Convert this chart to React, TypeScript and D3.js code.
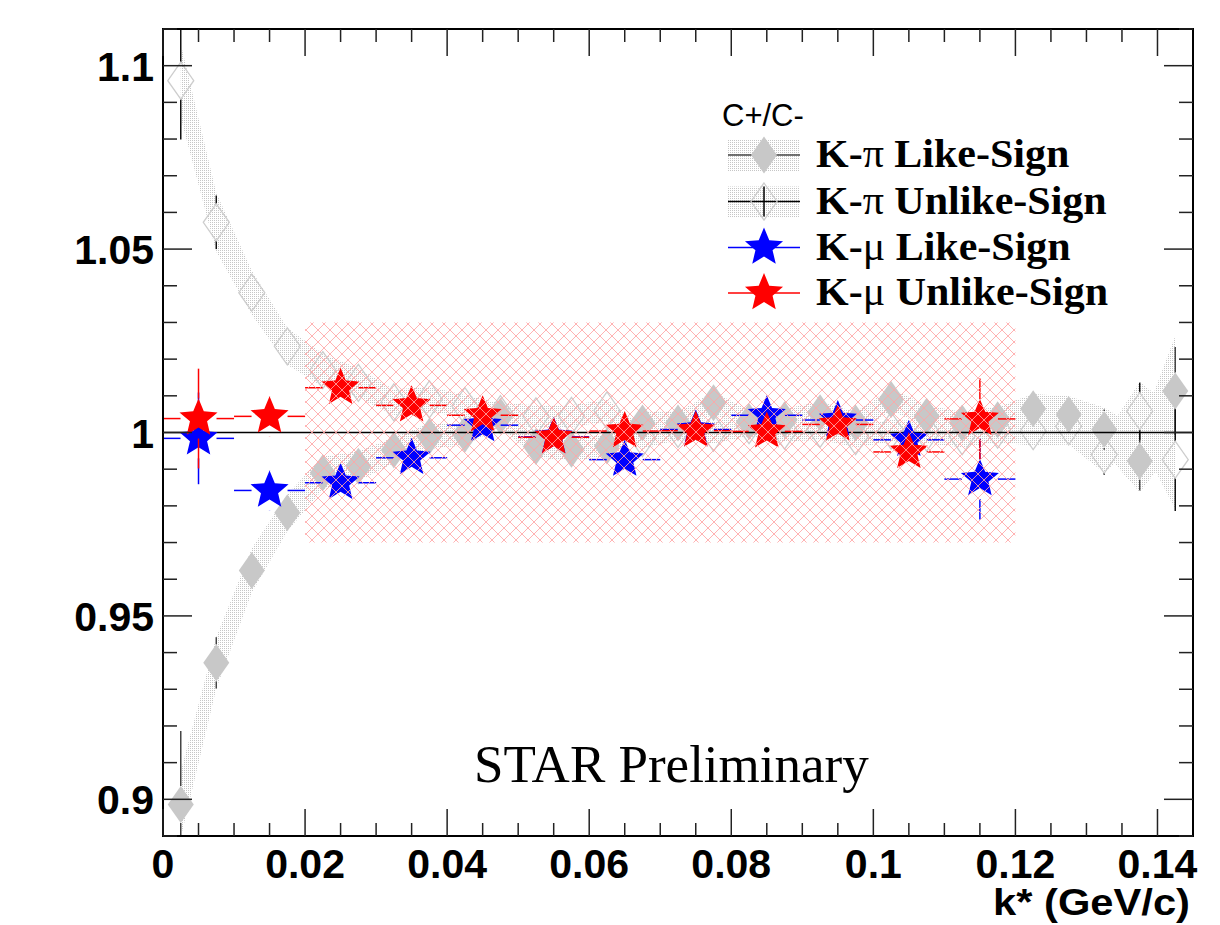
import React from 'react';
import * as d3 from 'd3';

// K-pi correlation ratio C+/C-, bins of 0.005 GeV/c
const kpiK = [
  0.0025, 0.0075, 0.0125, 0.0175, 0.0225, 0.0275, 0.0325, 0.0375, 0.0425, 0.0475,
  0.0525, 0.0575, 0.0625, 0.0675, 0.0725, 0.0775, 0.0825, 0.0875, 0.0925, 0.0975,
  0.1025, 0.1075, 0.1125, 0.1175, 0.1225, 0.1275, 0.1325, 0.1375, 0.1425,
];
const kpiLike = [
  0.8986, 0.9372, 0.9624, 0.9781, 0.989, 0.9908, 0.9952, 0.999, 0.9995, 1.0044,
  0.9962, 0.9954, 0.9963, 1.0026, 1.0026, 1.0081, 1.003, 1.0035, 1.0054, 1.0026,
  1.009, 1.0044, 1.0026, 1.0035, 1.0065, 1.0049, 1.0008, 0.9922, 1.0113,
];
const kpiLikeStat = [
  0.02, 0.007, 0.0045, 0.004, 0.0035, 0.003, 0.003, 0.003, 0.003, 0.003,
  0.003, 0.003, 0.003, 0.003, 0.003, 0.003, 0.003, 0.003, 0.003, 0.003,
  0.003, 0.003, 0.003, 0.003, 0.0035, 0.004, 0.0055, 0.008, 0.012,
];
const kpiLikeSys = [
  0.009, 0.007, 0.006, 0.005, 0.0045, 0.004, 0.0035, 0.0035, 0.003, 0.003,
  0.003, 0.003, 0.003, 0.003, 0.003, 0.003, 0.003, 0.003, 0.003, 0.003,
  0.003, 0.003, 0.003, 0.0035, 0.004, 0.005, 0.006, 0.0085, 0.015,
];
const kpiUnlike = [
  1.0959, 1.0573, 1.0381, 1.0235, 1.017, 1.0135, 1.0082, 1.009, 1.0072, 1.005,
  1.0044, 1.0045, 1.006, 0.9985, 1.001, 1.0, 1.002, 1.0005, 1.001, 0.999,
  1.0005, 1.0, 0.999, 1.0008, 1.0004, 1.0017, 0.994, 1.0058, 0.9926,
];
const kpiUnlikeStat = [
  0.016, 0.0073, 0.0045, 0.004, 0.0035, 0.003, 0.003, 0.003, 0.003, 0.003,
  0.003, 0.003, 0.003, 0.003, 0.003, 0.003, 0.003, 0.003, 0.003, 0.003,
  0.003, 0.003, 0.003, 0.003, 0.0035, 0.004, 0.0055, 0.0078, 0.014,
];
const kpiUnlikeSys = [
  0.01, 0.008, 0.006, 0.005, 0.0045, 0.004, 0.0035, 0.0035, 0.003, 0.003,
  0.003, 0.003, 0.003, 0.003, 0.003, 0.003, 0.003, 0.003, 0.003, 0.003,
  0.003, 0.003, 0.003, 0.0035, 0.004, 0.005, 0.005, 0.008, 0.0135,
];

// K-mu, bins of 0.01 GeV/c
const kmuK = [0.005, 0.015, 0.025, 0.035, 0.045, 0.055, 0.065, 0.075, 0.085, 0.095, 0.105, 0.115];
const kmuLike = [0.9984, 0.9842, 0.9863, 0.9931, 1.002, 0.9988, 0.9926, 1.0008, 1.0047, 1.0034, 0.998, 0.9873];
const kmuLikeErr = [0.0125, 0.0055, 0.004, 0.004, 0.004, 0.004, 0.004, 0.004, 0.004, 0.004, 0.004, 0.011];
const kmuUnlike = [1.0038, 1.0044, 1.0122, 1.0074, 1.0047, 0.9987, 1.0004, 1.0005, 1.0003, 1.0022, 0.9947, 1.0037];
const kmuUnlikeErr = [0.0136, 0.0055, 0.004, 0.004, 0.004, 0.004, 0.004, 0.004, 0.004, 0.004, 0.004, 0.011];
const kmuBinHalf = 0.005;

// systematic box for the K-mu points
const sysBox = { x0: 0.02, x1: 0.12, y0: 0.97, y1: 1.03 };

const xTickLabels = ['0', '0.02', '0.04', '0.06', '0.08', '0.1', '0.12', '0.14'];
const yTickLabels = ['0.9', '0.95', '1', '1.05', '1.1'];
const legendLabels: [string, string, string][] = [
  ['K-', 'π', ' Like-Sign'],
  ['K-', 'π', ' Unlike-Sign'],
  ['K-', 'μ', ' Like-Sign'],
  ['K-', 'μ', ' Unlike-Sign'],
];

const W = 1220;
const H = 925;
const left = 163;
const right = 1193;
const top = 29;
const bottom = 836;

const starR = 20;
const diaW = 13;
const diaH = 18.5;

function starPath(R: number, r: number) {
  const pts: string[] = [];
  for (let i = 0; i < 10; i++) {
    const a = -Math.PI / 2 + (i * Math.PI) / 5;
    const rad = i % 2 === 0 ? R : r;
    pts.push(`${(rad * Math.cos(a)).toFixed(2)},${(rad * Math.sin(a)).toFixed(2)}`);
  }
  return 'M' + pts.join('L') + 'Z';
}
const STAR = starPath(starR, starR * 0.45);
const DIAMOND = `M0,${-diaH}L${diaW},0L0,${diaH}L${-diaW},0Z`;

// vertical error bar drawn only outside the marker, like ROOT does
function ErrBar({ cx, cy, up, dn, gap, color }: { cx: number; cy: number; up: number; dn: number; gap: number; color: string }) {
  return (
    <g stroke={color} strokeWidth={1.5}>
      {cy - up > gap && <line x1={cx} x2={cx} y1={up} y2={cy - gap} />}
      {dn - cy > gap && <line x1={cx} x2={cx} y1={cy + gap} y2={dn} />}
    </g>
  );
}

export default function App() {
  const x = d3.scaleLinear([0, 0.145], [left, right]);
  const y = d3.scaleLinear([0.89, 1.11], [bottom, top]);

  const xMajor = xTickLabels.map(Number);
  const yMajor = yTickLabels.map(Number);
  const xMinor = d3.range(0, 29).map((i) => +(i * 0.005).toFixed(3)).filter((v) => !xMajor.some((m) => Math.abs(m - v) < 1e-6));
  const yMinor = d3.range(89, 112).map((i) => i / 100).filter((v) => !yMajor.some((m) => Math.abs(m - v) < 1e-6));

  const band = d3
    .area<[number, number, number]>()
    .x((d) => x(d[0]))
    .y0((d) => y(d[1] - d[2]))
    .y1((d) => y(d[1] + d[2]));

  const likeBand = band(kpiK.map((k, i) => [k, kpiLike[i], kpiLikeSys[i]])) || '';
  const unlikeBand = band(kpiK.map((k, i) => [k, kpiUnlike[i], kpiUnlikeSys[i]])) || '';

  const starSeries = [
    { vals: kmuLike, errs: kmuLikeErr, color: '#0000ff' },
    { vals: kmuUnlike, errs: kmuUnlikeErr, color: '#ff0000' },
  ];

  const legendY = [155, 201.5, 247.5, 293];
  const lgX0 = 728;
  const lgX1 = 800;
  const lgMid = 764;

  return (
    <svg width={W} height={H} style={{ position: 'absolute', left: 0, top: 0, background: '#fff' }}>
      <defs>
        <pattern id="dots" width="2" height="2" patternUnits="userSpaceOnUse">
          <rect width="1" height="1" fill="#c6c6c6" shapeRendering="crispEdges" />
        </pattern>
        <pattern id="hatch" width="12" height="12" patternUnits="userSpaceOnUse">
          <path d="M0,0L12,12M12,0L0,12" stroke="#ffa6a6" strokeWidth="1" fill="none" shapeRendering="crispEdges" />
        </pattern>
        <clipPath id="plotClip">
          <rect x={left} y={top} width={right - left} height={bottom - top} />
        </clipPath>
      </defs>
      <rect x={0} y={0} width={W} height={H} fill="#fff" />

      <g clipPath="url(#plotClip)">
        {/* systematic bands */}
        <path d={likeBand} fill="url(#dots)" />
        <path d={unlikeBand} fill="url(#dots)" />

        {/* K-pi stat errors */}
        {kpiK.map((k, i) => (
          <ErrBar key={'le' + i} cx={x(k)} cy={y(kpiLike[i])} up={y(kpiLike[i] + kpiLikeStat[i])} dn={y(kpiLike[i] - kpiLikeStat[i])} gap={diaH} color="#444" />
        ))}
        {kpiK.map((k, i) => (
          <ErrBar key={'ue' + i} cx={x(k)} cy={y(kpiUnlike[i])} up={y(kpiUnlike[i] + kpiUnlikeStat[i])} dn={y(kpiUnlike[i] - kpiUnlikeStat[i])} gap={diaH} color="#111" />
        ))}

        {/* K-pi markers */}
        {kpiK.map((k, i) => (
          <path key={'ud' + i} d={DIAMOND} transform={`translate(${x(k)},${y(kpiUnlike[i])})`} fill="none" stroke="#cdcdcd" strokeWidth={1.3} />
        ))}
        {kpiK.map((k, i) => (
          <path key={'ld' + i} d={DIAMOND} transform={`translate(${x(k)},${y(kpiLike[i])})`} fill="#c8c8c8" />
        ))}

        {/* reference line */}
        <line x1={left} x2={right} y1={y(1)} y2={y(1)} stroke="#000" strokeWidth={1.3} />

        {/* K-mu */}
        {starSeries.map((s, si) => (
          <g key={'s' + si}>
            {kmuK.map((k, i) => {
              const cx = x(k);
              const cy = y(s.vals[i]);
              const ex = x(k + kmuBinHalf) - cx;
              return (
                <g key={i}>
                  <g stroke={s.color} strokeWidth={1.5}>
                    <line x1={cx - ex} x2={cx - starR + 2} y1={cy} y2={cy} />
                    <line x1={cx + starR - 2} x2={cx + ex} y1={cy} y2={cy} />
                  </g>
                  <ErrBar cx={cx} cy={cy} up={y(s.vals[i] + s.errs[i])} dn={y(s.vals[i] - s.errs[i])} gap={starR} color={s.color} />
                </g>
              );
            })}
            {kmuK.map((k, i) => (
              <path key={'m' + i} d={STAR} transform={`translate(${x(k)},${y(s.vals[i])})`} fill={s.color} />
            ))}
          </g>
        ))}

        {/* systematic box */}
        <rect x={x(sysBox.x0)} y={y(sysBox.y1)} width={x(sysBox.x1) - x(sysBox.x0)} height={y(sysBox.y0) - y(sysBox.y1)} fill="url(#hatch)" opacity={0.85} />
      </g>

      {/* frame + ticks */}
      <rect x={left} y={top} width={right - left} height={bottom - top} fill="none" stroke="#000" strokeWidth={2} />
      <g stroke="#222" strokeWidth={1.5}>
        {xMajor.map((v) => (
          <g key={'xM' + v}>
            <line x1={x(v)} x2={x(v)} y1={bottom} y2={bottom - 27} />
            <line x1={x(v)} x2={x(v)} y1={top} y2={top + 27} />
          </g>
        ))}
        {xMinor.map((v) => (
          <g key={'xm' + v}>
            <line x1={x(v)} x2={x(v)} y1={bottom} y2={bottom - 13} />
            <line x1={x(v)} x2={x(v)} y1={top} y2={top + 13} />
          </g>
        ))}
        {yMajor.map((v) => (
          <g key={'yM' + v}>
            <line x1={left} x2={left + 29} y1={y(v)} y2={y(v)} />
            <line x1={right} x2={right - 29} y1={y(v)} y2={y(v)} />
          </g>
        ))}
        {yMinor.map((v) => (
          <g key={'ym' + v}>
            <line x1={left} x2={left + 14} y1={y(v)} y2={y(v)} />
            <line x1={right} x2={right - 14} y1={y(v)} y2={y(v)} />
          </g>
        ))}
      </g>

      {/* tick labels */}
      <g fontFamily="'Liberation Sans', Arial, sans-serif" fontWeight="bold" fontSize={41} fill="#000">
        {xTickLabels.map((t, i) => (
          <text key={t} x={x(xMajor[i])} y={878} textAnchor="middle">{t}</text>
        ))}
        {yTickLabels.map((t, i) => (
          <text key={t} x={154} y={y(yMajor[i]) + 15} textAnchor="end">{t}</text>
        ))}
        <text x={993} y={915} fontSize={36} textLength={197} lengthAdjust="spacingAndGlyphs">k* (GeV/c)</text>
      </g>

      {/* legend */}
      <text x={722} y={126} fontFamily="'Liberation Sans', Arial, sans-serif" fontSize={31}>C+/C-</text>
      <rect x={lgX0} y={legendY[0] - 15} width={lgX1 - lgX0} height={31} fill="url(#dots)" />
      <line x1={lgX0} x2={lgX1} y1={legendY[0]} y2={legendY[0]} stroke="#444" strokeWidth={1.5} />
      <path d={DIAMOND} transform={`translate(${lgMid},${legendY[0]})`} fill="#c8c8c8" />
      <rect x={lgX0} y={legendY[1] - 15} width={lgX1 - lgX0} height={31} fill="url(#dots)" />
      <line x1={lgX0} x2={lgX1} y1={legendY[1]} y2={legendY[1]} stroke="#000" strokeWidth={1.5} />
      <path d={DIAMOND} transform={`translate(${lgMid},${legendY[1]})`} fill="none" stroke="#cdcdcd" strokeWidth={1.3} />
      <line x1={lgMid} x2={lgMid} y1={legendY[1] - 15} y2={legendY[1] + 15} stroke="#000" strokeWidth={1.5} />
      {starSeries.map((s, si) => (
        <g key={'lg' + si}>
          <line x1={lgX0} x2={lgX1} y1={legendY[2 + si]} y2={legendY[2 + si]} stroke={s.color} strokeWidth={1.5} />
          <path d={STAR} transform={`translate(${lgMid},${legendY[2 + si]})`} fill={s.color} />
        </g>
      ))}
      <g transform="translate(816,0) scale(1.05,1)" fontFamily="'Liberation Serif', 'Times New Roman', serif" fontWeight="bold" fontSize={40}>
        {legendLabels.map((t, i) => (
          <text key={i} x={0} y={legendY[i] + 12.5}>
            {t[0]}
            <tspan fontWeight="normal">{t[1]}</tspan>
            {t[2]}
          </text>
        ))}
      </g>

      <text x={474} y={782} fontFamily="'Liberation Serif', 'Times New Roman', serif" fontSize={53}>STAR Preliminary</text>
    </svg>
  );
}
